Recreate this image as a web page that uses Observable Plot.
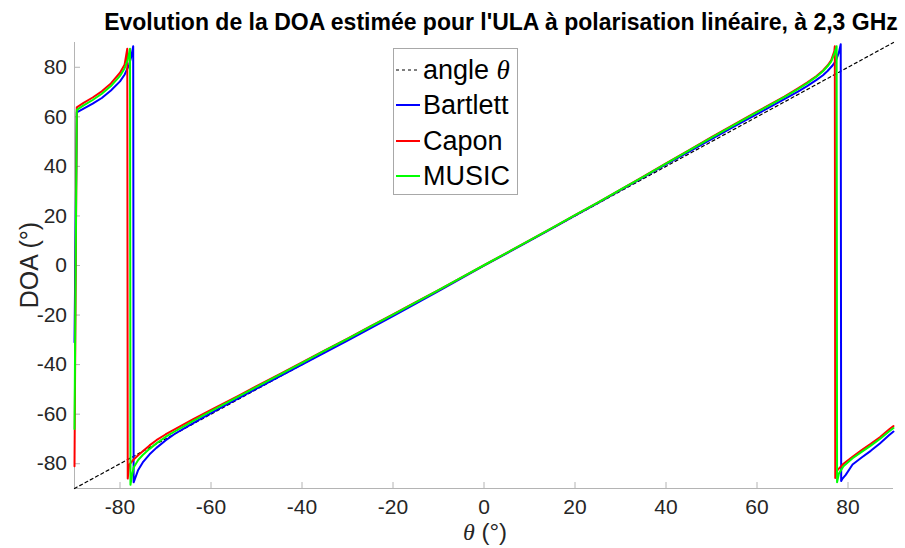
<!DOCTYPE html>
<html><head><meta charset="utf-8">
<script src="https://cdn.jsdelivr.net/npm/d3@7"></script>
<script src="https://cdn.jsdelivr.net/npm/@observablehq/plot@0.6"></script>
<style>
body{margin:0;background:#fff;}
#wrap{position:relative;width:905px;height:548px;overflow:hidden;font-family:"Liberation Sans",Arial,sans-serif;background:#fff;}
#wrap svg{position:absolute;left:0;top:0;}
.title{position:absolute;left:501px;top:11px;transform:translateX(-50%);white-space:nowrap;font-weight:bold;font-size:23px;line-height:23px;color:#000;}
.ylab{position:absolute;left:29px;top:265px;transform:translate(-50%,-50%) rotate(-90deg);white-space:nowrap;font-size:25px;line-height:25px;color:#262626;}
.xlab{position:absolute;left:485px;top:532px;transform:translate(-50%,-50%);white-space:nowrap;font-size:24px;line-height:24px;color:#262626;}
.th{font-family:"Liberation Serif","DejaVu Serif",serif;font-style:italic;}
.legend{position:absolute;left:393px;top:48px;width:123px;height:145px;border:1px solid #a8a8a8;background:#fff;}
.item{position:absolute;left:2px;height:30px;display:flex;align-items:center;white-space:nowrap;font-size:27px;color:#000;}
.item svg{position:static !important;margin-right:3px;}
</style></head><body><div id="wrap"></div>
<script>
// ---- data ----
const xDomain = [-90, 90];
const yDomain = [-90, 90];
const xTicks = [-80, -60, -40, -20, 0, 20, 40, 60, 80];
const yTicks = [-80, -60, -40, -20, 0, 20, 40, 60, 80];
const seriesNames = ["angle θ", "Bartlett", "Capon", "MUSIC"];

const angleTheta = [-90, 90];
const angleDOA = [-90, 90];

const bartlettTheta = [-90, -89.5, -88, -86, -84, -82, -80, -79, -78, -77.5, -77.1, -77.0, -76.6, -76, -75, -73.5, -72, -70, -68, -66, -64, -62, -60, -57, -54, -50, -45, -40, -35, -30, -25, -20, -15, -10, -5, 0, 5, 10, 15, 20, 25, 30, 35, 40, 45, 50, 55, 60, 63, 66, 69, 71, 73, 74.5, 75.5, 76.5, 77.3, 78, 78.4, 78.5, 78.8, 79.5, 81, 83, 85, 87, 89, 90];
const bartlettDOA = [-31, 61.8, 63.3, 65.3, 67.6, 70.6, 74.3, 77, 81, 84.5, 88.5, -87.5, -85.5, -82.5, -79.5, -76.2, -73.6, -70.6, -68.0, -65.8, -63.7, -61.6, -59.6, -56.6, -53.6, -49.7, -44.8, -40.0, -35.2, -30.3, -25.4, -20.4, -15.4, -10.3, -5.2, -0.1, 4.9, 9.9, 15.0, 20.1, 25.2, 30.4, 35.6, 40.8, 45.9, 51.0, 56.1, 61.1, 64.1, 67.1, 70.2, 72.4, 74.8, 76.8, 78.5, 80.5, 82.5, 86, 89.3, -87, -86, -84.5, -80.3, -77.5, -74.8, -71.8, -68.5, -67];

const caponTheta = [-90, -89.5, -88, -86, -84, -82, -80, -79, -78.4, -78.3, -78, -77, -76, -75, -73.5, -72, -70, -68, -66, -64, -62, -60, -57, -54, -50, -45, -40, -35, -30, -25, -20, -15, -10, -5, 0, 5, 10, 15, 20, 25, 30, 35, 40, 45, 50, 55, 60, 63, 66, 69, 71, 73, 74.5, 75.5, 76.3, 77.0, 77.1, 77.2, 77.5, 78, 79, 81, 83, 85, 87, 89, 90];
const caponDOA = [-81, 63.8, 65.6, 67.8, 70.3, 73.5, 77.8, 81, 87.5, -86, -80.5, -78.3, -76.6, -75, -72.6, -70.5, -68.2, -66.1, -64.1, -62.1, -60.2, -58.3, -55.4, -52.6, -48.7, -43.9, -39.1, -34.3, -29.5, -24.6, -19.7, -14.8, -9.9, -4.9, 0.1, 5.1, 10.1, 15.2, 20.3, 25.4, 30.6, 35.9, 41.2, 46.5, 51.8, 57.0, 62.1, 65.1, 68.2, 71.5, 73.8, 76.4, 78.7, 80.7, 82.8, 86.5, 88.5, -85.8, -83, -82, -80, -77.2, -74.5, -72, -69.3, -66.2, -64.8];

const musicTheta = [-90, -89.5, -88, -86, -84, -82, -80, -79, -78.3, -77.8, -77.7, -77.4, -77, -76, -75, -73.5, -72, -70, -68, -66, -64, -62, -60, -57, -54, -50, -45, -40, -35, -30, -25, -20, -15, -10, -5, 0, 5, 10, 15, 20, 25, 30, 35, 40, 45, 50, 55, 60, 63, 66, 69, 71, 73, 74.5, 75.5, 76.3, 77.0, 77.5, 77.6, 78, 79, 81, 83, 85, 87, 89, 90];
const musicDOA = [-66, 62.8, 64.6, 66.8, 69.3, 72.4, 76.5, 79.5, 83, 87.5, -88.5, -85, -81.5, -78.5, -76.5, -74, -71.8, -69.2, -67.0, -64.9, -62.8, -60.8, -58.8, -55.8, -52.9, -49.0, -44.1, -39.3, -34.4, -29.6, -24.7, -19.8, -14.9, -9.9, -4.9, 0.1, 5.1, 10.1, 15.2, 20.3, 25.4, 30.6, 35.8, 41.1, 46.4, 51.6, 56.8, 61.9, 64.9, 68.0, 71.2, 73.5, 76.1, 78.4, 80.4, 82.3, 85.5, 88.5, -87.5, -84, -81, -77.8, -75.2, -72.7, -70, -67, -65.6];

const colors = {angle: "#000000", bartlett: "#0000ff", capon: "#ff0000", music: "#00ff00"};

// ---- build ----
const rows = (t, v) => t.map((d, i) => ({t: d, v: v[i]}));
const W = 905, H = 548, mL = 74, mR = 12, mT = 42, mB = 60;
const frameW = W - mL - mR, frameH = H - mT - mB;
const axisGray = "#b4b4b4";
const fmt = d => String(d);

const chart = Plot.plot({
  width: W, height: H,
  marginLeft: mL, marginRight: mR, marginTop: mT, marginBottom: mB,
  x: {domain: xDomain},
  y: {domain: yDomain},
  style: {fontFamily: "'Liberation Sans', Arial, sans-serif", background: "transparent", color: "#262626"},
  marks: [
    Plot.ruleX([xDomain[0]], {stroke: axisGray, strokeWidth: 1}),
    Plot.ruleY([yDomain[0]], {stroke: axisGray, strokeWidth: 1}),
    Plot.tickX(xTicks, {stroke: axisGray, insetTop: frameH - 6}),
    Plot.tickY(yTicks, {stroke: axisGray, insetRight: frameW - 6}),
    Plot.axisX(xTicks, {tickSize: 0, tickPadding: 11, tickFormat: fmt, label: null, fontSize: 21, fill: "#262626"}),
    Plot.axisY(yTicks, {tickSize: 0, tickPadding: 7.5, tickFormat: fmt, label: null, fontSize: 21, fill: "#262626"}),
    Plot.line(rows(angleTheta, angleDOA), {x: "t", y: "v", stroke: colors.angle, strokeWidth: 1.2, strokeDasharray: "3,3"}),
    Plot.line(rows(bartlettTheta, bartlettDOA), {x: "t", y: "v", stroke: colors.bartlett, strokeWidth: 2, curve: "linear"}),
    Plot.line(rows(caponTheta, caponDOA), {x: "t", y: "v", stroke: colors.capon, strokeWidth: 2, curve: "linear"}),
    Plot.line(rows(musicTheta, musicDOA), {x: "t", y: "v", stroke: colors.music, strokeWidth: 2, curve: "linear"})
  ]
});

const wrap = document.getElementById("wrap");
wrap.appendChild(chart);

const title = document.createElement("div");
title.className = "title";
title.textContent = "Evolution de la DOA estimée pour l'ULA à polarisation linéaire, à 2,3 GHz";
wrap.appendChild(title);

const ylab = document.createElement("div");
ylab.className = "ylab";
ylab.textContent = "DOA (°)";
wrap.appendChild(ylab);

const xlab = document.createElement("div");
xlab.className = "xlab";
xlab.innerHTML = '<span class="th">θ</span> (°)';
wrap.appendChild(xlab);

// legend
const legend = document.createElement("div");
legend.className = "legend";
const legendItems = [
  {name: seriesNames[0], color: colors.angle, dash: "3,3", w: 1.2},
  {name: seriesNames[1], color: colors.bartlett, dash: null, w: 2},
  {name: seriesNames[2], color: colors.capon, dash: null, w: 2},
  {name: seriesNames[3], color: colors.music, dash: null, w: 2}
];
const rowCenters = [21, 56, 92, 127];
legendItems.forEach((it, i) => {
  const d = document.createElement("div");
  d.className = "item";
  d.style.top = (rowCenters[i] - 15) + "px";
  const sw = `<svg width="24" height="10"><line x1="0" x2="24" y1="5" y2="5" stroke="${it.color}" stroke-width="${it.w}" ${it.dash ? `stroke-dasharray="${it.dash}"` : ""}/></svg>`;
  const label = it.name === "angle θ" ? 'angle <span class="th">θ</span>' : it.name;
  d.innerHTML = sw + "<span>" + label + "</span>";
  legend.appendChild(d);
});
wrap.appendChild(legend);
</script></body></html>
